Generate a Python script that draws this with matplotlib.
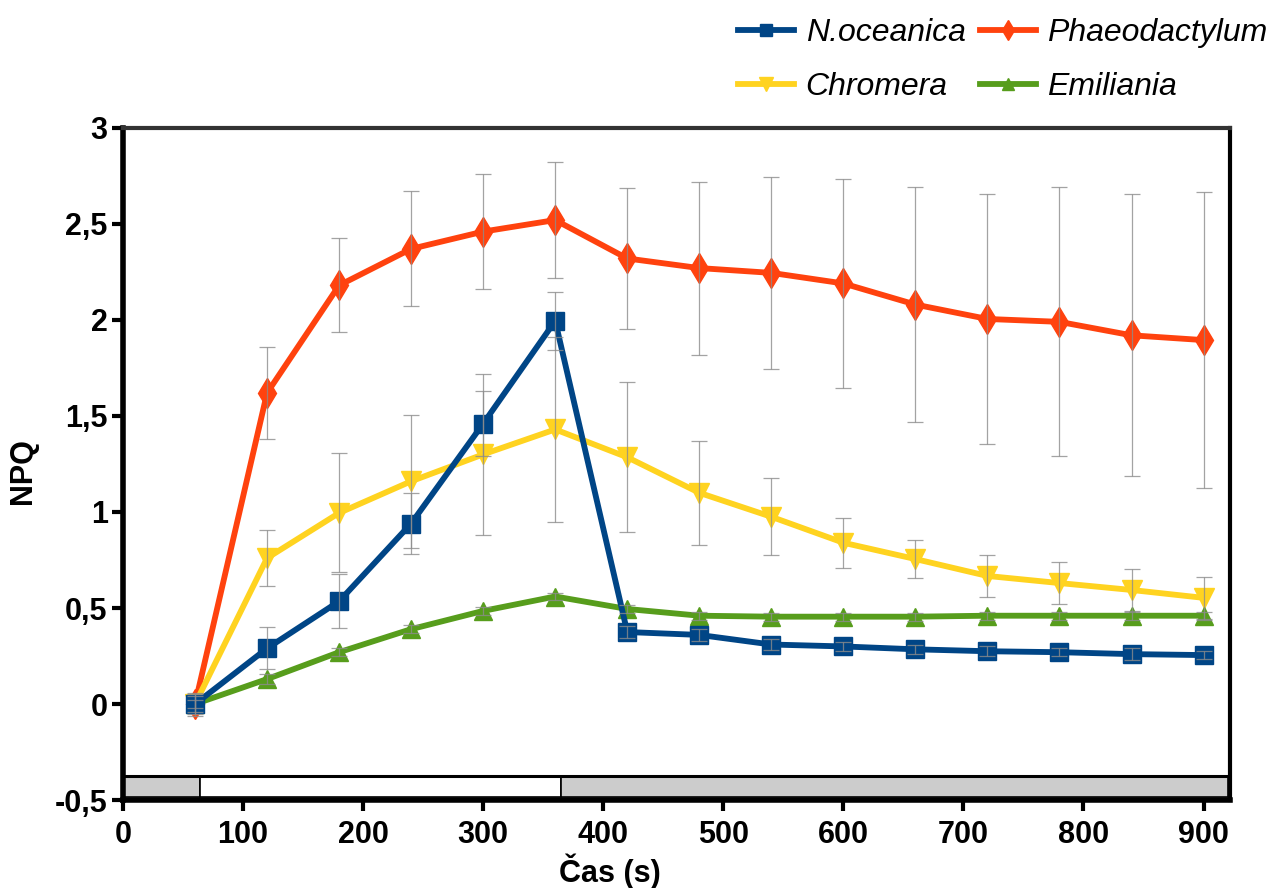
import matplotlib.pyplot as plt
import numpy as np

plt.rcParams['font.family'] = ['Liberation Sans', 'DejaVu Sans']

# čas měření (s)
t = [60, 120, 180, 240, 300, 360, 420, 480, 540, 600, 660, 720, 780, 840, 900]

noce = [0.0, 0.29, 0.535, 0.94, 1.46, 1.995, 0.375, 0.36, 0.31, 0.30, 0.285, 0.275, 0.27, 0.26, 0.255]
noce_sd = [0.04, 0.11, 0.14, 0.16, 0.17, 0.15, 0.03, 0.03, 0.03, 0.025, 0.025, 0.025, 0.02, 0.03, 0.02]

phaeo = [0.0, 1.62, 2.18, 2.37, 2.46, 2.52, 2.32, 2.27, 2.245, 2.19, 2.08, 2.005, 1.99, 1.92, 1.895]
phaeo_sd = [0.06, 0.24, 0.245, 0.30, 0.30, 0.30, 0.365, 0.45, 0.50, 0.545, 0.61, 0.65, 0.70, 0.735, 0.77]

chrom = [0.0, 0.76, 0.995, 1.16, 1.30, 1.43, 1.285, 1.10, 0.975, 0.84, 0.755, 0.667, 0.63, 0.594, 0.553]
chrom_sd = [0.05, 0.145, 0.31, 0.345, 0.42, 0.48, 0.39, 0.27, 0.20, 0.13, 0.10, 0.11, 0.11, 0.11, 0.11]

emil = [0.0, 0.13, 0.27, 0.39, 0.485, 0.56, 0.495, 0.46, 0.455, 0.455, 0.455, 0.46, 0.46, 0.46, 0.46]
emil_sd = [0.02, 0.025, 0.02, 0.02, 0.02, 0.02, 0.02, 0.02, 0.02, 0.02, 0.02, 0.02, 0.02, 0.02, 0.02]

# světelný režim: tma / světlo / tma
light_edges = [1, 64, 365, 920]
light_state = ['#cccccc', 'white', '#cccccc']

yticks = [-0.5, 0, 0.5, 1, 1.5, 2, 2.5, 3]
ylabels = ['-0,5', '0', '0,5', '1', '1,5', '2', '2,5', '3']
xticks = [0, 100, 200, 300, 400, 500, 600, 700, 800, 900]

fig = plt.figure(figsize=(12.68, 8.88), dpi=100)
ax = fig.add_axes([0.097, 0.099, 0.873, 0.757])

series = [
    (phaeo, phaeo_sd, 'Phaeodactylum', '#ff420e', 'd', 15),
    (chrom, chrom_sd, 'Chromera', '#ffd320', 'v', 14),
    (emil, emil_sd, 'Emiliania', '#579d1c', '^', 13),
    (noce, noce_sd, 'N.oceanica', '#004586', 's', 12.5),
]
handles = {}
for i, (y, sd, name, col, mk, ms) in enumerate(series):
    h, = ax.plot(t, y, color=col, lw=4.2, marker=mk, markersize=ms,
                 label=name, zorder=3 + i)
    handles[name] = h
    ax.errorbar(t, y, yerr=sd, fmt='none', ecolor='#8c8c8c', elinewidth=0.9,
                capsize=6, capthick=0.9, zorder=8, alpha=0.8)

# pruh se světelným režimem dole
for j in range(len(light_state)):
    ax.broken_barh([(light_edges[j], light_edges[j + 1] - light_edges[j])],
                   (-0.485, 0.11), facecolors=light_state[j],
                   edgecolors='black', linewidth=1.2, zorder=2)
ax.axhline(-0.375, color='black', lw=2.2, zorder=2)

ax.set_xlim(0, 922)
ax.set_ylim(-0.5, 3)
ax.set_yticks(yticks)
ax.set_yticklabels(ylabels)
ax.set_xticks(xticks)
ax.tick_params(direction='out', length=8, width=3, labelsize=22)
ax.tick_params(axis='y', pad=3)
ax.tick_params(axis='x', pad=6)
for lab in ax.get_xticklabels() + ax.get_yticklabels():
    lab.set_fontweight('bold')
for s in ax.spines.values():
    s.set_linewidth(3)
ax.spines['left'].set_linewidth(4)
ax.spines['bottom'].set_linewidth(4)
ax.spines['top'].set_color('#333333')

ax.set_ylabel('NPQ', fontsize=22, fontweight='bold')
ax.yaxis.set_label_coords(-0.077, 0.49)
ax.set_xlabel('Čas (s)', fontsize=22, fontweight='bold')
ax.xaxis.set_label_coords(0.44, -0.079)

order = ['N.oceanica', 'Chromera', 'Phaeodactylum', 'Emiliania']
fig.legend([handles[n] for n in order], order, ncol=2, loc='upper right',
           bbox_to_anchor=(1.022, 1.012), frameon=False,
           prop={'style': 'italic', 'size': 23}, handlelength=1.75,
           handletextpad=0.35, columnspacing=0.45, labelspacing=0.75,
           markerscale=0.7)

fig.savefig('out.png', dpi=100)
